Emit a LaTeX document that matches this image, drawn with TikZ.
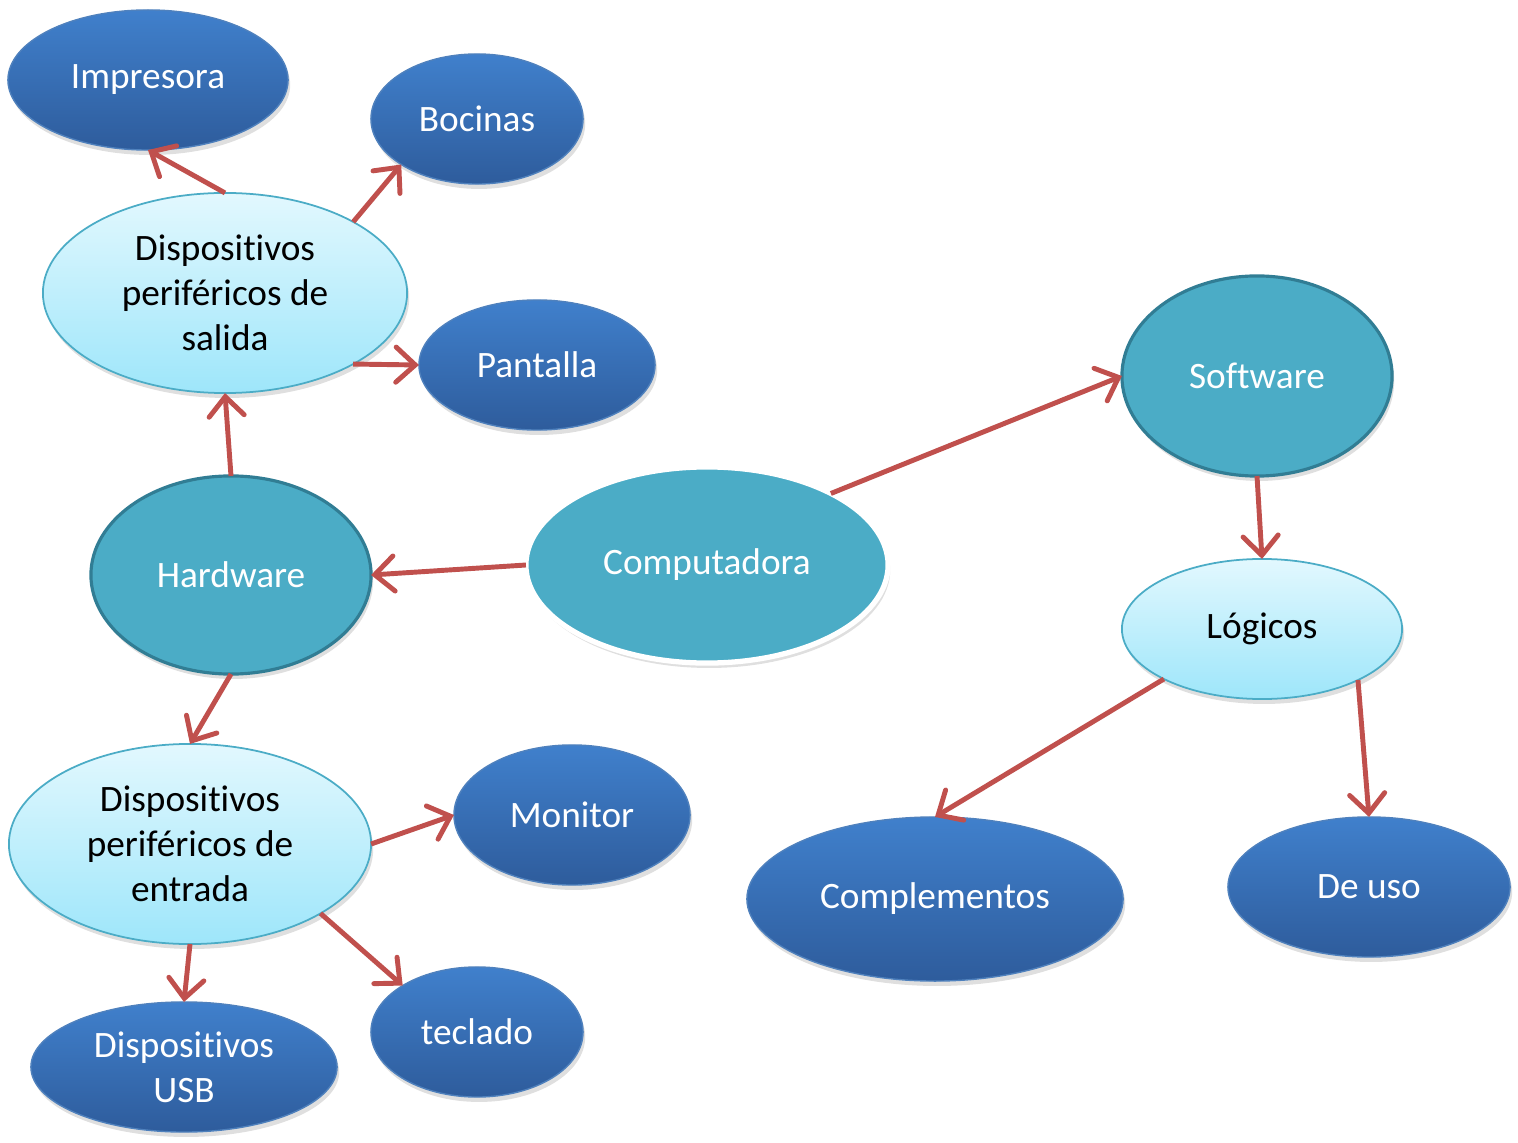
\documentclass[tikz,border=0pt]{standalone}
\usepackage{fontspec}
\setmainfont[Ligatures={NoCommon,NoRequired}, Contextuals=NoAlternate]{Carlito}
\usetikzlibrary{arrows.meta, shapes.geometric, shadows}
\definecolor{arrowred}{RGB}{192,80,77}
\definecolor{darktop}{RGB}{64,128,204}
\definecolor{darkbot}{RGB}{46,92,156}
\definecolor{darkrim}{RGB}{79,129,189}
\definecolor{lighttop}{RGB}{226,248,254}
\definecolor{lightbot}{RGB}{158,230,250}
\definecolor{tealfill}{RGB}{75,172,198}
\definecolor{tealrim}{RGB}{49,125,148}

\begin{document}
\begin{tikzpicture}[x=0.01cm, y=-0.01cm,
          every node/.style={font=\fontsize{10.6}{12.8}\selectfont, align=center,
                             inner sep=0pt, outer sep=0pt},
          oval/.style={ellipse, drop shadow={opacity=0.25, shadow xshift=0.6pt,
                       shadow yshift=-1.4pt}},
          dark/.style={oval, draw=darkrim, line width=0.4pt, top color=darktop,
                       bottom color=darkbot, text=white},
          light/.style={oval, draw=tealfill, line width=0.5pt, top color=lighttop,
                        bottom color=lightbot, text=black},
          teal/.style={oval, draw=tealrim, line width=0.9pt, fill=tealfill, text=white},
          link/.style={draw=arrowred, line width=1.4pt,
                       -{Straight Barb[length=5.5pt, width=10pt, line cap=round]}}]
        \useasboundingbox (0,0) rectangle (1518,1143);
        % centre
        \node[teal, draw=white, line width=1.5pt, minimum width=3.62cm,
              minimum height=1.96cm] (comp) at (707,565) {Computadora};
        \node[teal, minimum width=2.8cm, minimum height=1.98cm]  (hw)  at (231,575)  {Hardware};
        \node[teal, minimum width=2.7cm, minimum height=2.0cm]   (sw)  at (1257,376) {Software};
        % hardware side
        \node[light, minimum width=3.64cm, minimum height=2.0cm] (sal) at (225,293)
              {Dispositivos\\perif\'ericos de\\salida};
        \node[light, minimum width=3.62cm, minimum height=2.0cm] (ent) at (190,844)
              {Dispositivos\\perif\'ericos de\\entrada};
        \node[dark, minimum width=2.8cm, minimum height=1.4cm]   (imp) at (148,80)   {Impresora};
        \node[dark, minimum width=2.12cm, minimum height=1.3cm]  (boc) at (477,119)  {Bocinas};
        \node[dark, minimum width=2.36cm, minimum height=1.3cm]  (pan) at (537,365)  {Pantalla};
        \node[dark, minimum width=2.36cm, minimum height=1.4cm]  (mon) at (572,815)  {Monitor};
        \node[dark, minimum width=2.12cm, minimum height=1.3cm]  (tec) at (477,1032) {teclado};
        \node[dark, minimum width=3.06cm, minimum height=1.3cm]  (usb) at (184,1067) {Dispositivos\\USB};
        % software side
        \node[light, minimum width=2.8cm, minimum height=1.4cm]  (log) at (1262,629) {L\'ogicos};
        \node[dark, minimum width=3.76cm, minimum height=1.64cm] (cpl) at (935,899)  {Complementos};
        \node[dark, minimum width=2.82cm, minimum height=1.4cm]  (uso) at (1369,887) {De uso};
        % connectors
        \draw[link] (comp.west) -- (hw.east);
        \draw[link] (comp.30) -- (sw.west);
        \draw[link] (hw.north) -- (sal.south);
        \draw[link] (hw.south) -- (ent.north);
        \draw[link] (sal.north) -- (imp.south);
        \draw[link] (sal.29) -- (boc.211);
        \draw[link] (sal.331) -- (pan.west);
        \draw[link] (ent.east) -- (mon.west);
        \draw[link] (ent.332) -- (tec.148);
        \draw[link] (ent.south) -- (usb.north);
        \draw[link] (sw.south) -- (log.north);
        \draw[link] (log.207) -- (cpl.north);
        \draw[link] (log.332) -- (uso.north);
      \end{tikzpicture}
\end{document}
